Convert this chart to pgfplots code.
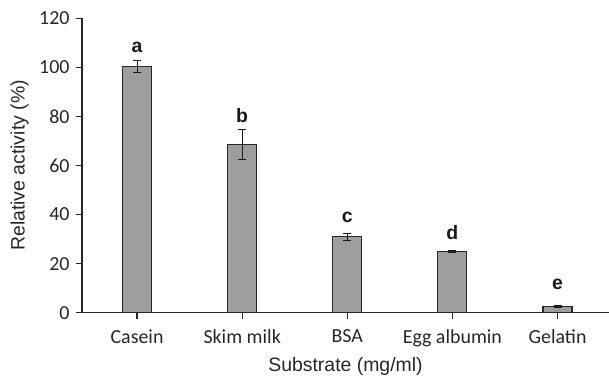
\documentclass[border=0pt]{standalone}
\usepackage{pgfplots}
\pgfplotsset{compat=1.18}
\usepackage{fontspec}
\setmainfont{Carlito}
\newfontfamily\arialf{Liberation Sans}
\begin{document}
\begin{tikzpicture}
\begin{axis}[
  scale only axis,
  width=527bp, height=294.4bp,
  xmin=-0.524, xmax=4.49,
  ymin=0, ymax=120,
  axis x line*=bottom, axis y line*=left,
  axis line style={line width=1.2bp, draw=black!85},
  ytick={0,20,...,120},
  xtick={0,1,2,3,4},
  xticklabels={Casein,Skim milk,BSA,Egg albumin,Gelatin},
  tick style={line width=1.2bp, draw=black!85},
  tick align=outside,
  major tick length=6bp,
  /pgf/number format/assume math mode=true,
  ticklabel style={font=\fontsize{20}{23}\selectfont, text=black!85},
  xticklabel style={yshift=-7.5bp},
  yticklabel style={xshift=-3bp},
  xlabel={Substrate (mg/ml)},
  ylabel={Relative activity (\%)},
  label style={font=\arialf\fontsize{19.5}{22}\selectfont, text=black!85},
  xlabel style={at={(axis description cs:0.5,-0.2004)}, anchor=base},
  ylabel style={at={(axis description cs:-0.1186,0.5)}, anchor=center},
  clip=false,
]
\addplot[ybar, bar width=29bp, fill=black!38, draw=black!85, line width=1.2bp,
  error bars/.cd, y dir=both, y explicit,
  error bar style={line width=1bp, black!90},
  error mark options={rotate=90, mark size=4bp, line width=1bp}]
  coordinates {
  (0,100.4) +- (0,2.6)
  (1,68.6) +- (0,6.2)
  (2,31) +- (0,1.4)
  (3,24.9) +- (0,0.5)
  (4,2.4) +- (0,0.4)
};
\addplot[draw=none, mark=none, nodes near coords, point meta=explicit symbolic,
  every node near coord/.style={anchor=base, font=\arialf\bfseries\fontsize{19.5}{22}\selectfont, text=black!90}]
  coordinates {
  (0,105.9) [a]
  (1,77.7) [b]
  (2,36.6) [c]
  (3,29.8) [d]
  (4,9.3) [e]
};
\end{axis}
\pgfresetboundingbox
\path ([xshift=-82bp, yshift=-64.3bp]current axis.south west) rectangle ([yshift=18.3bp]current axis.north east);
\end{tikzpicture}
\end{document}
